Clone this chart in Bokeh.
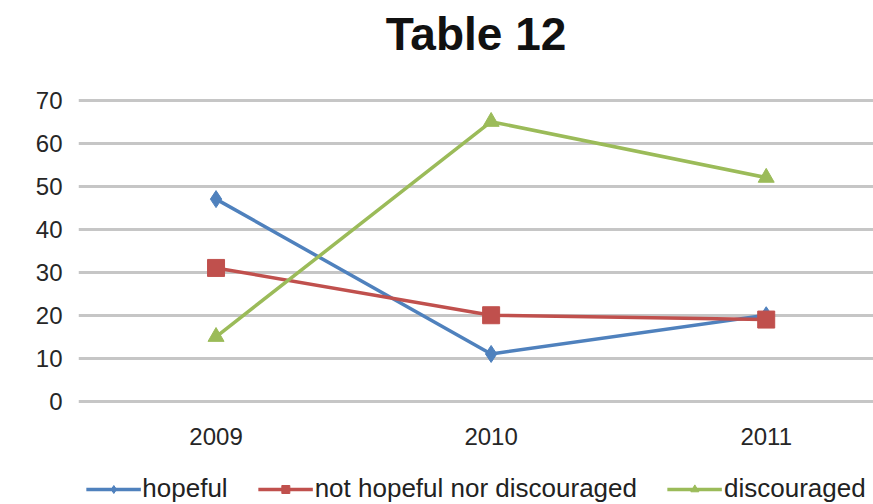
from bokeh.plotting import figure
from bokeh.models import Range1d, FixedTicker, Legend, LegendItem
from bokeh.embed import file_html
from bokeh.resources import INLINE

# Survey answers per year (percent)
years = ["2009", "2010", "2011"]
hopeful = [47, 11, 20]
neutral = [31, 20, 19]
discouraged = [15, 65, 52]
y_ticks = [0, 10, 20, 30, 40, 50, 60, 70]

xs = list(range(len(years)))

# The frame runs down to the bottom edge so the legend can sit inside it,
# below the x axis (which is pinned at y = -2).
p = figure(width=873, height=504, output_backend="svg", toolbar_location=None,
           x_range=Range1d(-0.5, 2.39), y_range=Range1d(-24, 77.6),
           min_border_left=78, min_border_right=0, min_border_top=67,
           min_border_bottom=0)

p.title.text = "Table 12"
p.title.align = "center"
p.title.vertical_align = "top"
p.title.text_font = "Liberation Sans"
p.title.text_font_style = "bold"
p.title.text_font_size = "46px"
p.title.text_color = "#111111"
p.title.standoff = 12

p.outline_line_color = None
p.background_fill_color = "white"
p.border_fill_color = "white"

p.xgrid.grid_line_color = None
p.ygrid.grid_line_color = "#c6c6c6"
p.ygrid.grid_line_width = 3

p.xaxis.ticker = FixedTicker(ticks=xs)
p.xaxis.major_label_overrides = {i: y for i, y in enumerate(years)}
p.xaxis.fixed_location = -2
p.yaxis.ticker = FixedTicker(ticks=y_ticks)

for ax in (p.xaxis[0], p.yaxis[0]):
    ax.axis_line_color = None
    ax.major_tick_line_color = None
    ax.minor_tick_line_color = None
    ax.major_label_text_font = "Liberation Sans"
    ax.major_label_text_font_size = "24px"
    ax.major_label_text_color = "#262626"
p.yaxis.major_label_standoff = 10
p.xaxis.major_label_standoff = 12

blue, red, green = "#4f81bd", "#c0504d", "#9bbb59"

l1 = p.line(xs, hopeful, line_color=blue, line_width=3.5)
m1 = p.scatter(xs, hopeful, marker="diamond", size=17, fill_color=blue, line_color=blue)
l2 = p.line(xs, neutral, line_color=red, line_width=3.5)
m2 = p.scatter(xs, neutral, marker="square", size=17, fill_color=red, line_color=red)
l3 = p.line(xs, discouraged, line_color=green, line_width=3.5)
m3 = p.scatter(xs, discouraged, marker="triangle", size=16, fill_color=green, line_color=green)

legend = Legend(items=[
    LegendItem(label="hopeful", renderers=[l1, m1]),
    LegendItem(label="not hopeful nor discouraged", renderers=[l2, m2]),
    LegendItem(label="discouraged", renderers=[l3, m3]),
], orientation="horizontal", location="bottom_center")
legend.label_text_font = "Liberation Sans"
legend.label_text_font_size = "26px"
legend.label_text_color = "#222222"
legend.glyph_width = 55
legend.glyph_height = 20
legend.label_standoff = 2
legend.spacing = 30
legend.padding = 0
legend.margin = 0
legend.border_line_color = None
legend.background_fill_alpha = 0
p.add_layout(legend)

open("out.html", "w").write(file_html(p, INLINE))
